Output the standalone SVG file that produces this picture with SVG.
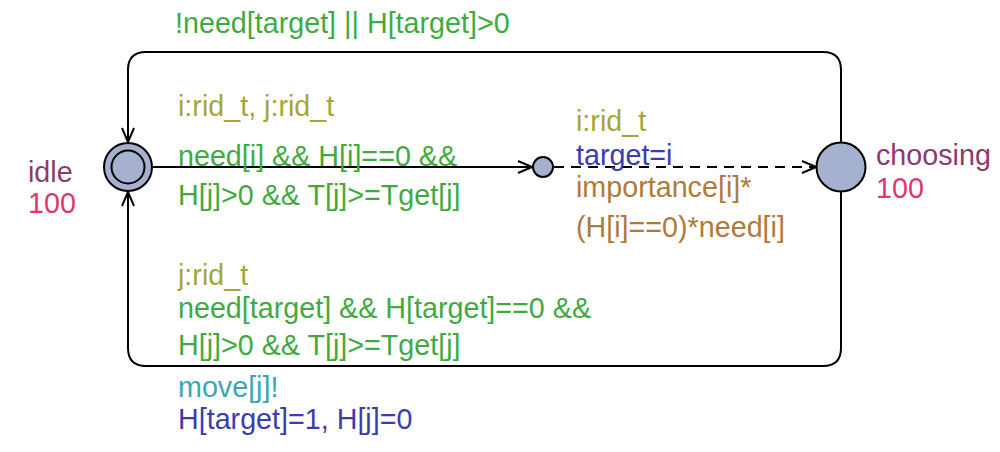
<svg xmlns="http://www.w3.org/2000/svg" width="1000" height="452" viewBox="0 0 1000 452">
<style>
text{font-family:"Liberation Sans",Arial,sans-serif;font-size:28.7px}
.loc{fill:#a6b0cf;stroke:#000;stroke-width:2}
.edge{fill:none;stroke:#000;stroke-width:2}
.dash{stroke-dasharray:10 7}
.name{fill:#8e3a6c}
.inv{fill:#e3356f}
.sel{fill:#a6a634}
.grd{fill:#3fab3f}
.syn{fill:#3ea5b4}
.upd{fill:#3d3caf}
.prob{fill:#b07b3a}
</style>
<defs>
<marker id="arr" viewBox="0 0 16 14" refX="15" refY="7" markerWidth="16" markerHeight="14" markerUnits="userSpaceOnUse" orient="auto">
<path d="M1,1 L15,7 L1,13" fill="none" stroke="#000" stroke-width="2"/>
</marker>
</defs>
<g id="connectors">
<path class="edge" d="M841,142 V70 Q841,52 823,52 H146 Q128,52 128,70 V142" marker-end="url(#arr)"/>
<path class="edge" d="M841,192 V348 Q841,366 823,366 H146 Q128,366 128,348 V192" marker-end="url(#arr)"/>
<path class="edge" d="M153,167 H532" marker-end="url(#arr)"/>
<path class="edge dash" d="M554,167 H816" marker-end="url(#arr)"/>
<text class="grd" x="175" y="33">!need[target] || H[target]&gt;0</text>
<text class="sel" x="178" y="116">i:rid_t, j:rid_t</text>
<text class="grd" x="178" y="166">need[i] &amp;&amp; H[i]==0 &amp;&amp;</text>
<text class="grd" x="178" y="205">H[j]&gt;0 &amp;&amp; T[j]&gt;=Tget[j]</text>
<text class="sel" x="576" y="131">i:rid_t</text>
<text class="upd" x="576" y="165">target=i</text>
<text class="prob" x="576" y="197">importance[i]*</text>
<text class="prob" x="576" y="237">(H[i]==0)*need[i]</text>
<text class="sel" x="178" y="285">j:rid_t</text>
<text class="grd" x="178" y="318">need[target] &amp;&amp; H[target]==0 &amp;&amp;</text>
<text class="grd" x="178" y="355">H[j]&gt;0 &amp;&amp; T[j]&gt;=Tget[j]</text>
<text class="syn" x="178" y="397">move[j]!</text>
<text class="upd" x="178" y="429">H[target]=1, H[j]=0</text>
</g>
<g id="idle">
<circle class="loc" cx="128" cy="167" r="24"/>
<circle class="loc" cx="128" cy="167" r="16.5"/>
<text class="name" x="28" y="182">idle</text>
<text class="inv" x="28" y="213">100</text>
</g>
<g id="branch">
<circle class="loc" cx="543" cy="167" r="10"/>
</g>
<g id="choosing">
<circle class="loc" cx="841" cy="167" r="24.5"/>
<text class="name" x="876" y="165">choosing</text>
<text class="inv" x="876" y="198">100</text>
</g>
</svg>
